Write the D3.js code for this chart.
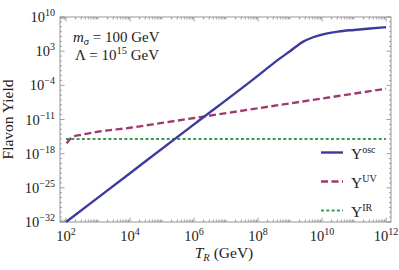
<!DOCTYPE html>
<html>
<head>
<meta charset="utf-8">
<script src="https://cdn.jsdelivr.net/npm/d3@7"></script>
<style>
  body { margin: 0; background: #fff; }
  text { font-family: 'Liberation Serif', 'Times New Roman', serif; fill: #222; }
</style>
</head>
<body>
<div class="chart"></div>
<script>
(function () {
  'use strict';

  // log10 of T_R (GeV) and log10 of the yield
  var oscLogT = [2, 4, 6, 8, 8.5, 9, 9.4, 9.7, 10, 10.5, 11, 11.5, 12];
  var oscLogY = [-32, -22, -12, -2, 0.6, 3.0, 4.9, 5.8, 6.4, 7.0, 7.35, 7.65, 7.9];

  var uvLogT = [2.02, 2.2, 2.5, 3, 4, 5, 6, 8, 10, 12];
  var uvLogY = [-15.9, -14.6, -14.1, -13.5, -12.7, -11.7, -10.7, -8.7, -6.7, -4.7];

  var irLogT = [2, 12];
  var irLogY = [-15, -15];

  var xTickExp = [2, 4, 6, 8, 10, 12];
  var yTickExp = [10, 3, -4, -11, -18, -25, -32];

  var series = [
    { name: 'osc', t: oscLogT, y: oscLogY, color: '#3c3c9c', dash: null, width: 2.4 },
    { name: 'UV', t: uvLogT, y: uvLogY, color: '#a0396f', dash: '7,3.5', width: 2.4 },
    { name: 'IR', t: irLogT, y: irLogY, color: '#3a9b4c', dash: '3,2.3', width: 2.2 }
  ];

  var margin = { top: 17, right: 8, bottom: 48, left: 60 };
  var W = 399, H = 270;
  var width = W - margin.left - margin.right;
  var height = H - margin.top - margin.bottom;

  var x = d3.scaleLog()
      .domain([Math.pow(10, 1.8125), Math.pow(10, 12.156)])
      .range([0, width]);
  var y = d3.scaleLog()
      .domain([1e-32, 1e10])
      .range([height, 0]);

  var svg = d3.select('.chart')
      .append('svg')
      .attr('width', W)
      .attr('height', H)
      .append('g')
      .attr('transform', 'translate(' + margin.left + ',' + margin.top + ')');

  // ticks on all four sides, pointing inward
  var tickColor = '#777';
  var xMinor = [];
  for (var e = 1; e <= 12; e++) {
    for (var k = 1; k <= 9; k++) {
      var v = k * Math.pow(10, e);
      if (v >= x.domain()[0] && v <= x.domain()[1]) {
        xMinor.push(v);
      }
    }
  }
  var yMinor = d3.range(-32, 11).map(function(d) { return Math.pow(10, d); });

  [0, height].forEach(function(edge) {
    var dir = edge === 0 ? 1 : -1;
    svg.selectAll(null)
       .data(xMinor)
       .enter()
       .append('line')
       .attr('x1', function(d) { return x(d); })
       .attr('x2', function(d) { return x(d); })
       .attr('y1', edge)
       .attr('y2', function(d) {
         var major = xTickExp.indexOf(Math.round(Math.log10(d) * 1000) / 1000) >= 0;
         return edge + dir * (major ? 4.5 : 2.5);
       })
       .attr('stroke', tickColor)
       .attr('stroke-width', 0.7);
  });

  [0, width].forEach(function(edge) {
    var dir = edge === 0 ? 1 : -1;
    svg.selectAll(null)
       .data(yMinor)
       .enter()
       .append('line')
       .attr('y1', function(d) { return y(d); })
       .attr('y2', function(d) { return y(d); })
       .attr('x1', edge)
       .attr('x2', function(d) {
         var major = yTickExp.indexOf(Math.round(Math.log10(d))) >= 0;
         return edge + dir * (major ? 4.5 : 2);
       })
       .attr('stroke', tickColor)
       .attr('stroke-width', 0.7);
  });

  svg.append('rect')
     .attr('width', width)
     .attr('height', height)
     .attr('fill', 'none')
     .attr('stroke', '#8a8a8a')
     .attr('stroke-width', 0.9);

  // tick labels
  var yLab = svg.selectAll('.ylab')
     .data(yTickExp)
     .enter()
     .append('text')
     .attr('class', 'ylab')
     .attr('x', -5)
     .attr('y', function(d) { return y(Math.pow(10, d)) + 5; })
     .attr('text-anchor', 'end')
     .style('font-size', '14.5px');
  yLab.append('tspan').text('10');
  yLab.append('tspan')
      .attr('dy', -6)
      .style('font-size', '10px')
      .text(function(d) { return d < 0 ? '\u2212' + (-d) : d; });

  var xLab = svg.selectAll('.xlab')
     .data(xTickExp)
     .enter()
     .append('text')
     .attr('class', 'xlab')
     .attr('x', function(d) { return x(Math.pow(10, d)); })
     .attr('y', height + 19)
     .attr('text-anchor', 'middle')
     .style('font-size', '14.5px');
  xLab.append('tspan').text('10');
  xLab.append('tspan')
      .attr('dy', -6)
      .style('font-size', '10px')
      .text(function(d) { return d; });

  // axis titles
  svg.append('text')
     .attr('transform', 'translate(' + (-47) + ',' + (height / 2) + ') rotate(-90)')
     .attr('text-anchor', 'middle')
     .style('font-size', '15.5px')
     .text('Flavon Yield');

  var xt = svg.append('text')
     .attr('x', 164)
     .attr('y', height + 36)
     .attr('text-anchor', 'middle')
     .style('font-size', '15.5px');
  xt.append('tspan').style('font-style', 'italic').text('T');
  xt.append('tspan').attr('dy', 3).style('font-size', '10.5px').style('font-style', 'italic').text('R');
  xt.append('tspan').attr('dy', -3).text(' (GeV)');

  // curves
  var line = d3.line()
      .x(function(d) { return x(Math.pow(10, d[0])); })
      .y(function(d) { return y(Math.pow(10, d[1])); })
      .curve(d3.curveMonotoneX);

  series.slice().reverse().forEach(function(s) {
    svg.append('path')
       .datum(d3.zip(s.t, s.y))
       .attr('d', line)
       .attr('fill', 'none')
       .attr('stroke', s.color)
       .attr('stroke-width', s.width)
       .attr('stroke-dasharray', s.dash);
  });

  // parameter box
  var a1 = svg.append('text')
     .attr('x', 13)
     .attr('y', 25)
     .style('font-size', '15px');
  a1.append('tspan').style('font-style', 'italic').text('m');
  a1.append('tspan').attr('dy', 3).style('font-size', '10.5px').style('font-style', 'italic').text('\u03c3');
  a1.append('tspan').attr('dy', -3).text(' = 100 GeV');

  var a2 = svg.append('text')
     .attr('x', 15)
     .attr('y', 43)
     .style('font-size', '15px');
  a2.append('tspan').text('\u039b = 10');
  a2.append('tspan').attr('dy', -6).style('font-size', '10.5px').text('15');
  a2.append('tspan').attr('dy', 6).text(' GeV');

  // legend
  var leg = svg.selectAll('.leg')
     .data(series)
     .enter()
     .append('g')
     .attr('class', 'leg')
     .attr('transform', function(d, i) { return 'translate(261,' + (135.5 + i * 29) + ')'; });

  leg.append('line')
     .attr('x1', 0)
     .attr('x2', 22)
     .attr('stroke', function(d) { return d.color; })
     .attr('stroke-width', function(d) { return d.width; })
     .attr('stroke-dasharray', function(d) { return d.dash; });

  var lt = leg.append('text')
     .attr('x', 30)
     .attr('y', 6)
     .style('font-size', '15.5px');
  lt.append('tspan').text('Y');
  lt.append('tspan')
     .attr('dy', -6)
     .style('font-size', '10px')
     .text(function(d) { return d.name; });
}());
</script>
</body>
</html>
